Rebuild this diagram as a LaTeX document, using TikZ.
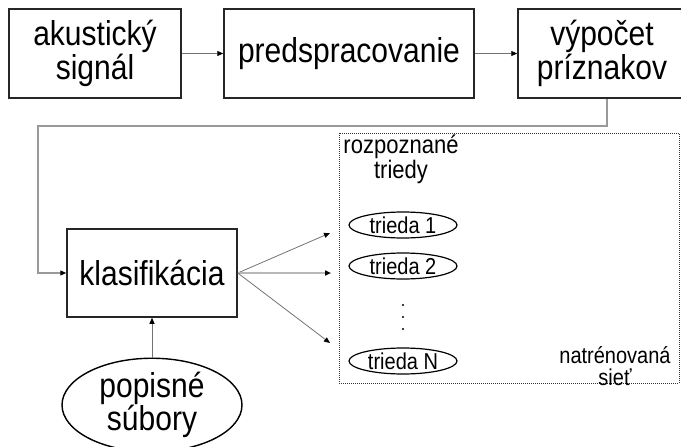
\documentclass[tikz,border=0pt]{standalone}
\usepackage{fontspec}
\setmainfont[FakeStretch=0.87]{Liberation Sans}
\usetikzlibrary{arrows.meta,shapes.geometric}
\begin{document}
\begin{tikzpicture}[x=1pt,y=-1pt,
  box/.style={draw=black!85,line width=1.5pt,inner sep=0pt,align=center,
    font=\fontsize{34.5}{30}\selectfont},
  cloud/.style={ellipse,draw=black,line width=1.4pt,inner sep=0pt,align=center,
    font=\fontsize{34.5}{32}\selectfont},
  classnode/.style={ellipse,draw=black,line width=1.2pt,inner sep=0pt,
    minimum width=108pt,minimum height=26pt,font=\fontsize{23}{24}\selectfont},
  label/.style={inner sep=0pt,align=center},
  tip/.style={-{Triangle[length=6pt,width=5pt,color=black]}},
  conn/.style={draw=black!55,line width=0.8pt,tip},
  lightconn/.style={draw=black!28,line width=1.5pt,tip},
  feed/.style={draw=black!40,line width=1.1pt,tip},
  netframe/.style={draw=black!80,line width=0.8pt,dash pattern=on 1pt off 1pt}]
  \clip (0,0) rectangle (681,447);

  % processing chain
  \node[box,minimum width=172pt,minimum height=89pt] (sig) at (95,53.5) {akustický\\signál};
  \node[box,minimum width=250pt,minimum height=89pt] (pre) at (349,53.5) {predspracovanie};
  \node[box,minimum width=168pt,minimum height=89pt] (feat) at (602,53.5) {výpočet\\príznakov};
  \node[box,minimum width=170pt,minimum height=88pt] (cls) at (152,273) {klasifikácia};
  \node[cloud,minimum width=180pt,minimum height=82pt] (desc) at (152,405) {popisné\\súbory};

  % trained network frame
  \node[netframe,minimum width=340pt,minimum height=250pt,inner sep=0pt] (net) at (509,258) {};
  \node[label,font=\fontsize{25.3}{25}\selectfont] (rec) at (401,159) {rozpoznané\\triedy};
  \node[label,font=\fontsize{23}{22}\selectfont] (trained) at (615,366) {natrénovaná\\sieť};
  \node[classnode] (c1) at (403,225) {trieda 1};
  \node[classnode] (c2) at (403,266) {trieda 2};
  \node[classnode] (cN) at (403,361) {trieda N};
  \foreach \yy in {305,317,329} \fill (403,\yy) circle (1.1pt);

  % connectors
  \draw[conn] (sig) -- (pre);
  \draw[conn] (pre) -- (feat);
  \coordinate (fb1) at (607,126);
  \coordinate (fb2) at (38,126);
  \draw[feed] (feat.south -| fb1) |- (fb2) |- (cls.west);
  \coordinate (t1) at (330,233);
  \coordinate (t2) at (331,273);
  \coordinate (t3) at (330,343);
  \draw[conn] (cls.east) -- (t1);
  \draw[lightconn] (cls.east) -- (t2);
  \draw[conn] (cls.east) -- (t3);
  \draw[conn] (desc) -- (cls);
\end{tikzpicture}
\end{document}
